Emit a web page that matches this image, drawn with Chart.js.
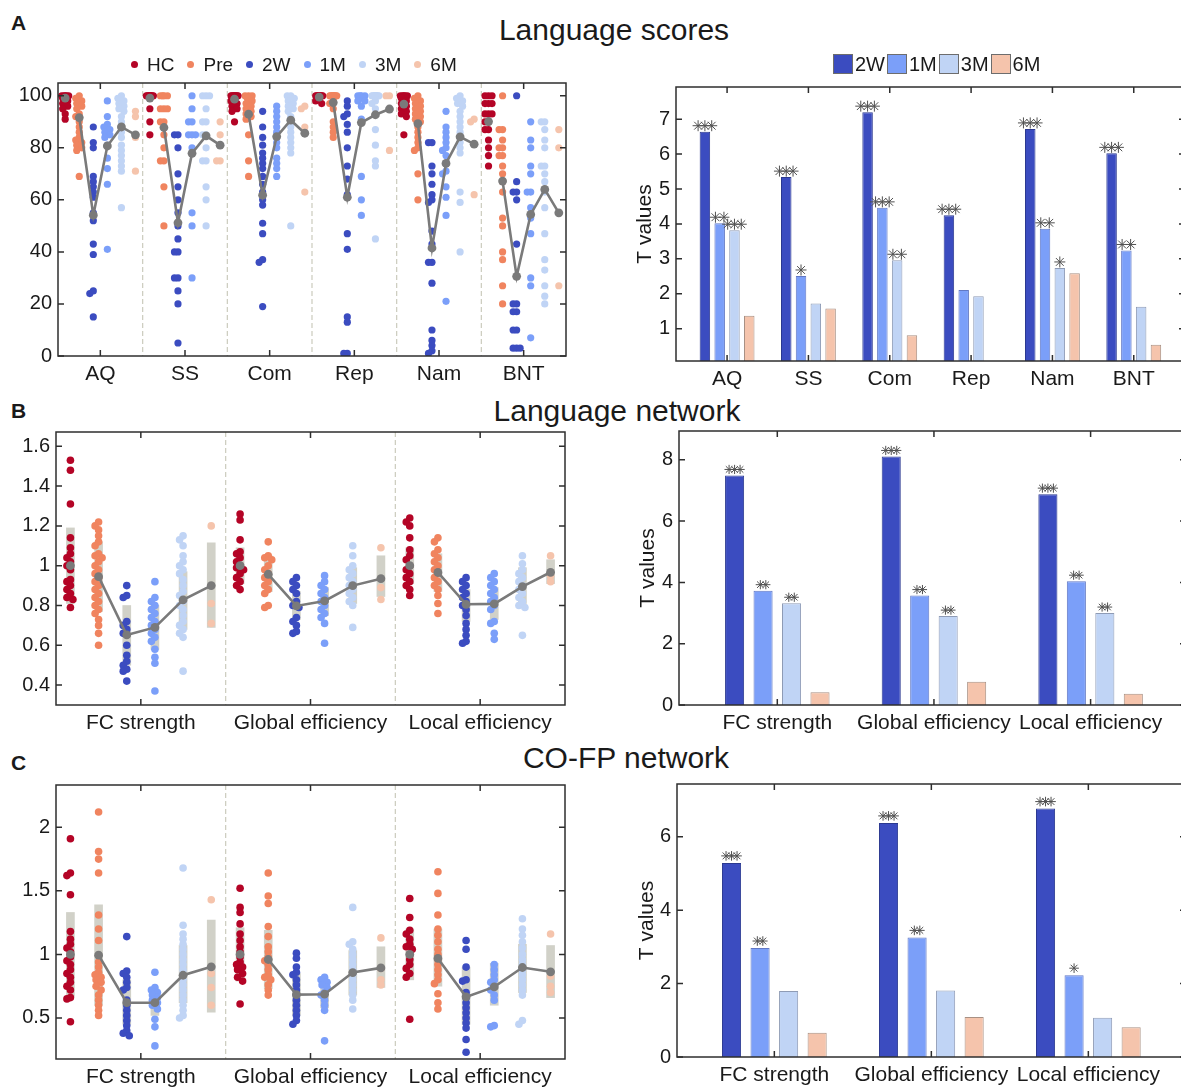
<!DOCTYPE html>
<html lang="en">
<head>
<meta charset="utf-8">
<script src="https://cdn.jsdelivr.net/npm/chart.js@4.4.1/dist/chart.umd.min.js"></script>
<style>
  html, body { margin: 0; padding: 0; background: #fff; width: 1181px; height: 1089px; overflow: hidden; position: relative;
    font-family: 'Liberation Sans', Arial, sans-serif; color: #1a1a1a; }
  canvas { position: absolute; }
  .letra { position: absolute; font-weight: bold; font-size: 21px; line-height: 1; }
  .titulo { position: absolute; font-size: 30px; line-height: 1; transform: translateX(-50%); white-space: nowrap; }
  .legenda { position: absolute; display: flex; align-items: center; font-size: 19px; line-height: 1; white-space: nowrap; z-index: 2; }
  .ponto { width: 7px; height: 7px; border-radius: 50%; display: inline-block; margin-right: 9px; }
  .item { display: flex; align-items: center; margin-right: 13px; }
  .caixa { width: 18px; height: 18px; border: 1px solid #6d6d6d; display: inline-block; margin-right: 2px; }
  .itemBarra { display: flex; align-items: center; margin-right: 2px; font-size: 20px; }
</style>
</head>
<body>
<div class="letra" style="left:11px;top:12px">A</div>
<div class="titulo" style="left:614px;top:15px">Language scores</div>
<div class="letra" style="left:11px;top:400px">B</div>
<div class="titulo" style="left:617px;top:396px">Language network</div>
<div class="letra" style="left:11px;top:752px">C</div>
<div class="titulo" style="left:626px;top:743px">CO-FP network</div>
<div class="legenda" id="legPontos" style="left:131px;top:55px"></div>
<div class="legenda" id="legBarras" style="left:833px;top:54px"></div>

<script>
/* =========================
   DADOS
========================= */
const grupos = ['HC', 'Pre', '2W', '1M', '3M', '6M'];

// A - Language scores (pontos por categoria)
const catA = ['AQ', 'SS', 'Com', 'Rep', 'Nam', 'BNT'];
const ticksA = [0, 20, 40, 60, 80, 100];
const A_HC = [
  [100, 100, 100, 100, 100, 99, 98, 97, 96, 95, 93, 91],
  [100, 100, 100, 100, 100, 100, 100, 100, 100, 100, 95, 90, 85],
  [100, 100, 100, 100, 100, 100, 100, 100, 99, 98, 97, 96, 95, 94, 90],
  [100, 100, 100, 100, 100, 100, 100, 100, 99, 98, 97],
  [100, 100, 100, 100, 100, 99, 98, 97, 96, 95, 94, 93, 92, 85],
  [100, 100, 100, 97, 97, 97, 93, 93, 93, 90, 90, 87, 87, 83, 80, 77, 73]
];
const A_Pre = [
  [100, 99, 98, 97, 96, 95, 93, 92, 90, 88, 86, 84, 83, 82, 81, 80, 79, 69],
  [100, 100, 100, 100, 95, 95, 95, 90, 90, 85, 80, 75, 75, 65, 50],
  [100, 100, 100, 99, 98, 97, 96, 95, 94, 93, 92, 91, 85, 75, 69],
  [100, 100, 100, 100, 100, 100, 100, 100, 100, 100, 98, 97, 95, 90, 88, 86, 84],
  [100, 99, 98, 97, 96, 95, 94, 93, 92, 91, 90, 88, 86, 84, 82, 80, 79, 70, 60],
  [100, 87, 87, 83, 80, 80, 77, 77, 73, 70, 67, 63, 53, 50, 40, 37, 27, 20]
];
const A_2W = [
  [88, 82, 80, 69, 67, 65, 63, 61, 55, 52, 43, 39, 25, 24, 15],
  [85, 85, 80, 70, 65, 60, 55, 50, 45, 40, 40, 30, 30, 25, 20, 5],
  [94, 88, 84, 81, 78, 76, 74, 72, 69, 66, 63, 60, 58, 51, 47, 37, 36, 19],
  [98, 96, 93, 92, 89, 86, 80, 73, 68, 62, 47, 41, 15, 13, 1, 1],
  [82, 82, 73, 70, 66, 62, 60, 59, 48, 43, 36, 36, 28, 10, 6, 4, 2, 1],
  [100, 67, 63, 63, 60, 43, 20, 20, 17, 17, 10, 10, 3, 3, 3]
];
const A_1M = [
  [98, 92, 89, 88, 87, 86, 85, 84, 81, 76, 72, 66, 41],
  [100, 95, 90, 90, 85, 85, 85, 80, 55, 50, 30],
  [96, 94, 92, 90, 88, 86, 84, 82, 80, 76, 74, 72, 69],
  [100, 100, 100, 100, 99, 98, 98, 96, 91, 69, 60, 54],
  [94, 88, 86, 84, 82, 80, 79, 77, 74, 71, 70, 65, 61, 54, 21],
  [90, 83, 80, 73, 70, 63, 63, 57, 53, 47, 30, 27, 7]
];
const A_3M = [
  [100, 99, 98, 97, 96, 95, 94, 92, 90, 88, 86, 84, 81, 79, 77, 75, 73, 71, 57],
  [100, 100, 100, 95, 90, 90, 85, 85, 80, 75, 75, 65, 60, 50],
  [100, 100, 99, 98, 97, 96, 95, 94, 92, 90, 88, 86, 84, 82, 80, 78, 50],
  [100, 100, 100, 100, 100, 100, 100, 100, 100, 100, 98, 97, 95, 87, 81, 75, 73, 45],
  [100, 99, 98, 97, 96, 94, 92, 90, 88, 86, 84, 82, 80, 78, 63, 59, 40],
  [90, 90, 87, 83, 80, 73, 73, 70, 67, 63, 57, 47, 37, 33, 27, 23, 20]
];
const A_6M = [
  [94, 92, 84, 71],
  [90, 85, 75, 75],
  [96, 95, 88, 63],
  [100, 100, 79],
  [91, 90, 62],
  [87, 80, 27]
];
// medias [categoria][HC, Pre, 2W, 1M, 3M, 6M]
const mediaA = [
  [99.1, 91.6, 54.1, 80.7, 88, 85],
  [99.1, 87.8, 51.2, 77.9, 84.6, 81],
  [98.7, 92.9, 61.8, 84.3, 90.6, 85.6],
  [99.5, 97.4, 61, 89.7, 92.7, 94.9],
  [96.8, 89.3, 41.5, 74, 84.2, 81.4],
  [90.1, 67.2, 30.6, 54.4, 64, 55]
];

// A - T values
const ticksTA = [1, 2, 3, 4, 5, 6, 7];
const tA_2W = [6.64, 5.34, 7.2, 4.25, 6.72, 6.02];
const tA_1M = [4.02, 2.51, 4.46, 2.11, 3.86, 3.24];
const tA_3M = [3.82, 1.72, 2.96, 1.93, 2.74, 1.63];
const tA_6M = [1.37, 1.58, 0.81, null, 2.59, 0.54];
const sigA_2W = [3, 3, 3, 3, 3, 3];
const sigA_1M = [2, 1, 3, 0, 2, 2];
const sigA_3M = [3, 0, 2, 0, 1, 0];
const sigA_6M = [0, 0, 0, 0, 0, 0];

// B - Language network
const catRede = ['FC strength', 'Global efficiency', 'Local efficiency'];
const ticksB = [0.4, 0.6, 0.8, 1, 1.2, 1.4, 1.6];
const B_HC = [
  [1.53, 1.48, 1.31, 1.14, 1.09, 1.06, 1.04, 1.02, 1.0, 0.98, 0.93, 0.92, 0.90, 0.88, 0.86, 0.84, 0.83, 0.79],
  [1.26, 1.23, 1.13, 1.07, 1.06, 1.04, 1.02, 1.0, 0.99, 0.98, 0.96, 0.94, 0.92, 0.90, 0.88],
  [1.24, 1.22, 1.20, 1.14, 1.08, 1.05, 1.03, 1.0, 0.98, 0.96, 0.94, 0.92, 0.90, 0.88, 0.85]
];
const B_Pre = [
  [1.22, 1.20, 1.18, 1.15, 1.12, 1.10, 1.06, 1.05, 1.04, 1.02, 1.0, 0.98, 0.96, 0.94, 0.92, 0.90, 0.88, 0.86, 0.84, 0.82, 0.80, 0.78, 0.76, 0.73, 0.70, 0.66, 0.60],
  [1.12, 1.05, 1.04, 1.03, 1.0, 0.98, 0.96, 0.94, 0.92, 0.90, 0.88, 0.86, 0.80, 0.79],
  [1.14, 1.12, 1.08, 1.06, 1.04, 1.02, 1.0, 0.98, 0.96, 0.94, 0.92, 0.90, 0.88, 0.85, 0.81, 0.76]
];
const B_2W = [
  [0.90, 0.85, 0.84, 0.72, 0.70, 0.68, 0.66, 0.60, 0.55, 0.52, 0.50, 0.48, 0.47, 0.42],
  [0.94, 0.92, 0.90, 0.88, 0.86, 0.82, 0.80, 0.79, 0.74, 0.72, 0.70, 0.67, 0.66],
  [0.94, 0.92, 0.90, 0.88, 0.86, 0.84, 0.82, 0.80, 0.78, 0.75, 0.71, 0.68, 0.65, 0.62, 0.61]
];
const B_1M = [
  [0.92, 0.84, 0.82, 0.80, 0.78, 0.76, 0.74, 0.72, 0.70, 0.68, 0.66, 0.64, 0.62, 0.58, 0.54, 0.51, 0.37],
  [0.95, 0.92, 0.90, 0.88, 0.86, 0.84, 0.82, 0.80, 0.78, 0.76, 0.74, 0.71, 0.61],
  [0.96, 0.94, 0.92, 0.90, 0.88, 0.86, 0.84, 0.82, 0.80, 0.78, 0.72, 0.71, 0.66, 0.63]
];
const B_3M = [
  [1.15, 1.13, 1.10, 1.05, 1.02, 1.0, 0.98, 0.96, 0.93, 0.90, 0.87, 0.85, 0.82, 0.80, 0.78, 0.75, 0.72, 0.70, 0.68, 0.66, 0.64, 0.47],
  [1.10, 1.05, 1.0, 0.98, 0.96, 0.94, 0.92, 0.90, 0.88, 0.86, 0.84, 0.82, 0.80, 0.69],
  [1.05, 1.01, 0.98, 0.96, 0.94, 0.92, 0.90, 0.88, 0.86, 0.84, 0.82, 0.80, 0.79, 0.65]
];
const B_6M = [
  [1.20, 0.81, 0.71],
  [1.09, 0.89, 0.83],
  [1.05, 0.95, 0.92]
];
const mediaB = [
  [1.0, 0.945, 0.652, 0.69, 0.828, 0.9],
  [1.0, 0.957, 0.798, 0.823, 0.9, 0.935],
  [1.0, 0.966, 0.806, 0.808, 0.895, 0.967]
];
const faixaB_min = [
  [0.81, 0.77, 0.50, 0.58, 0.68, 0.69],
  [0.91, 0.87, 0.73, 0.75, 0.81, 0.845],
  [0.91, 0.87, 0.72, 0.73, 0.81, 0.91]
];
const faixaB_max = [
  [1.19, 1.12, 0.80, 0.80, 0.97, 1.115],
  [1.09, 1.05, 0.87, 0.89, 0.99, 1.05],
  [1.09, 1.06, 0.88, 0.89, 0.99, 1.03]
];
const ticksTB = [0, 2, 4, 6, 8];
const tB_2W = [7.49, 8.11, 6.88];
const tB_1M = [3.73, 3.57, 4.04];
const tB_3M = [3.32, 2.9, 3.0];
const tB_6M = [0.42, 0.76, 0.37];
const sigB_2W = [3, 3, 3];
const sigB_1M = [2, 2, 2];
const sigB_3M = [2, 2, 2];
const sigB_6M = [0, 0, 0];

// C - CO-FP network
const ticksC = [0.5, 1, 1.5, 2];
const C_HC = [
  [1.91, 1.64, 1.62, 1.47, 1.18, 1.12, 1.08, 1.05, 1.02, 0.98, 0.95, 0.92, 0.88, 0.85, 0.82, 0.78, 0.75, 0.72, 0.66, 0.65, 0.47],
  [1.52, 1.37, 1.33, 1.24, 1.16, 1.11, 1.06, 1.02, 0.98, 0.94, 0.92, 0.90, 0.88, 0.85, 0.82, 0.79, 0.61],
  [1.44, 1.29, 1.19, 1.16, 1.12, 1.08, 1.06, 1.04, 1.0, 0.96, 0.92, 0.89, 0.85, 0.82, 0.49]
];
const C_Pre = [
  [2.12, 1.81, 1.75, 1.64, 1.31, 1.20, 1.11, 0.94, 0.90, 0.86, 0.84, 0.82, 0.80, 0.78, 0.75, 0.72, 0.68, 0.64, 0.60, 0.56, 0.52],
  [1.64, 1.46, 1.40, 1.22, 1.14, 1.06, 1.02, 0.98, 0.95, 0.92, 0.88, 0.84, 0.82, 0.80, 0.76, 0.72, 0.68],
  [1.65, 1.48, 1.31, 1.20, 1.15, 1.10, 1.04, 1.0, 0.96, 0.92, 0.88, 0.84, 0.80, 0.77, 0.69, 0.62, 0.57]
];
const C_2W = [
  [1.14, 0.87, 0.85, 0.82, 0.78, 0.74, 0.72, 0.64, 0.60, 0.56, 0.52, 0.48, 0.44, 0.40, 0.38, 0.36],
  [1.01, 0.97, 0.90, 0.86, 0.84, 0.80, 0.76, 0.72, 0.68, 0.64, 0.60, 0.56, 0.52, 0.48, 0.45],
  [1.11, 1.04, 0.90, 0.80, 0.79, 0.70, 0.66, 0.62, 0.58, 0.54, 0.50, 0.46, 0.42, 0.33, 0.23]
];
const C_1M = [
  [0.86, 0.74, 0.72, 0.70, 0.68, 0.66, 0.64, 0.62, 0.60, 0.57, 0.49, 0.43, 0.28],
  [0.82, 0.80, 0.78, 0.76, 0.74, 0.70, 0.68, 0.64, 0.60, 0.56, 0.32],
  [0.92, 0.88, 0.84, 0.80, 0.78, 0.75, 0.72, 0.68, 0.64, 0.44, 0.43]
];
const C_3M = [
  [1.68, 1.23, 1.16, 1.12, 1.08, 1.04, 1.0, 0.96, 0.92, 0.88, 0.84, 0.80, 0.76, 0.72, 0.68, 0.64, 0.60, 0.56, 0.52, 0.50],
  [1.37, 1.10, 1.08, 1.04, 1.0, 0.96, 0.92, 0.88, 0.84, 0.80, 0.76, 0.72, 0.68, 0.64, 0.57],
  [1.28, 1.20, 1.15, 1.10, 1.05, 1.0, 0.96, 0.92, 0.88, 0.84, 0.80, 0.76, 0.72, 0.68, 0.48, 0.45]
];
const C_6M = [
  [1.43, 0.85, 0.74, 0.60],
  [1.13, 0.89, 0.80, 0.76],
  [1.16, 0.83, 0.75, 0.70]
];
const mediaC = [
  [1.0, 0.994, 0.62, 0.62, 0.836, 0.902],
  [1.0, 0.96, 0.684, 0.687, 0.857, 0.894],
  [1.0, 0.968, 0.666, 0.744, 0.897, 0.863]
];
const faixaC_min = [
  [0.67, 0.60, 0.45, 0.52, 0.62, 0.545],
  [0.79, 0.73, 0.52, 0.58, 0.68, 0.74],
  [0.80, 0.75, 0.45, 0.60, 0.70, 0.66]
];
const faixaC_max = [
  [1.33, 1.39, 0.80, 0.73, 1.07, 1.27],
  [1.21, 1.19, 0.85, 0.80, 1.03, 1.06],
  [1.20, 1.20, 0.90, 0.93, 1.08, 1.07]
];
const ticksTC = [0, 2, 4, 6];
const tC_2W = [5.29, 6.38, 6.77];
const tC_1M = [2.97, 3.26, 2.23];
const tC_3M = [1.80, 1.81, 1.07];
const tC_6M = [0.66, 1.09, 0.81];
const sigC_2W = [3, 3, 3];
const sigC_1M = [2, 2, 1];
const sigC_3M = [0, 0, 0];
const sigC_6M = [0, 0, 0];

/* =========================
   ESTILO
========================= */
const cores = ['#b40426', '#f0845f', '#3b4cc0', '#7b9ff9', '#c0d4f5', '#f5c4ac'];
const bordasBarra = ['#2b3990', '#6178c4', '#8e9bb5', '#a89083'];
const desloc = [-0.415, -0.249, -0.083, 0.083, 0.249, 0.415];
const corTexto = '#1a1a1a';

Chart.defaults.font.family = "'Liberation Sans', Arial, sans-serif";
Chart.defaults.color = corTexto;
Chart.defaults.animation = false;
Chart.defaults.events = [];
Chart.defaults.plugins.legend.display = false;
Chart.defaults.plugins.tooltip.enabled = false;

/* =========================
   PLUGINS
========================= */
const moldura = {
  id: 'moldura',
  beforeDatasetsDraw(chart, args, opts) {
    if (!opts.divisores) return;
    const { ctx, chartArea: a, scales: { x } } = chart;
    ctx.save();
    ctx.strokeStyle = '#cbcbbd';
    ctx.lineWidth = 1.2;
    ctx.setLineDash([5, 3]);
    for (let i = 1; i < opts.divisores; i++) {
      const px = x.getPixelForValue(i + 0.5);
      ctx.beginPath();
      ctx.moveTo(px, a.top);
      ctx.lineTo(px, a.bottom);
      ctx.stroke();
    }
    ctx.restore();
  },
  afterDraw(chart) {
    const { ctx, chartArea: a, scales: { x, y } } = chart;
    ctx.save();
    ctx.strokeStyle = '#2e2e2e';
    ctx.lineWidth = 1.5;
    ctx.strokeRect(a.left, a.top, a.right - a.left, a.bottom - a.top);
    ctx.beginPath();
    y.ticks.forEach(t => {
      const py = y.getPixelForValue(t.value);
      ctx.moveTo(a.left, py); ctx.lineTo(a.left + 6, py);
      ctx.moveTo(a.right, py); ctx.lineTo(a.right - 6, py);
    });
    x.ticks.forEach(t => {
      const px = x.getPixelForValue(t.value);
      ctx.moveTo(px, a.top); ctx.lineTo(px, a.top + 6);
      ctx.moveTo(px, a.bottom); ctx.lineTo(px, a.bottom - 6);
    });
    ctx.stroke();
    ctx.restore();
  }
};

const asteriscos = {
  id: 'asteriscos',
  afterDatasetsDraw(chart, args, opts) {
    if (!opts.niveis) return;
    const ctx = chart.ctx;
    ctx.save();
    ctx.strokeStyle = '#505050';
    ctx.fillStyle = '#505050';
    opts.niveis.forEach((niveis, i) => {
      chart.getDatasetMeta(i).data.forEach((barra, j) => {
        const n = niveis[j];
        if (!n || isNaN(barra.y)) return;
        const passo = n === 2 ? opts.passo2 : opts.passo3;
        for (let k = 0; k < n; k++) {
          Chart.helpers.drawPoint(ctx, { pointStyle: 'star', radius: opts.raio, rotation: 0, borderWidth: 1.1 },
            barra.x + (k - (n - 1) / 2) * passo, barra.y - opts.folga);
        }
      });
    });
    ctx.restore();
  }
};

/* =========================
   UTILIDADES
========================= */
function criarCanvas(area, yw, xh) {
  const pad = { left: 4, top: 22, right: 10, bottom: 4 };
  const c = document.createElement('canvas');
  const left = area.l - yw - pad.left;
  const top = area.t - pad.top;
  c.width = area.r + pad.right - left;
  c.height = area.b + xh + pad.bottom - top;
  c.style.left = left + 'px';
  c.style.top = top + 'px';
  document.body.appendChild(c);
  return { c, pad };
}

// afasta horizontalmente pontos que se sobrepoem (em px)
function espalhar(vals, pxY) {
  const feitos = [];
  return vals.map(v => {
    const py = v * pxY;
    let melhor = 0, melhorDist = -1;
    for (const dx of [0, -2.5, 2.5, -1.2, 1.2, -3.5, 3.5]) {
      let d = Infinity;
      feitos.forEach(p => { d = Math.min(d, Math.hypot(p.dx - dx, p.py - py)); });
      if (d >= 5) { melhor = dx; break; }
      if (d > melhorDist) { melhor = dx; melhorDist = d; }
    }
    feitos.push({ dx: melhor, py });
    return melhor;
  });
}

function eixoX(cats, xr, xh, fonte) {
  return {
    type: 'linear', min: xr[0], max: xr[1], offset: false,
    afterBuildTicks: s => { s.ticks = cats.map((_, i) => ({ value: i + 1 })); },
    afterFit: s => { s.height = xh; },
    grid: { display: false, drawTicks: false },
    border: { display: false },
    ticks: { autoSkip: false, maxRotation: 0, minRotation: 0, padding: 6, font: { size: fonte }, color: corTexto,
      callback: v => cats[v - 1] ?? '' }
  };
}

function eixoY(ticks, yr, yw, titulo) {
  return {
    min: yr[0], max: yr[1],
    afterBuildTicks: s => { s.ticks = ticks.map(v => ({ value: v })); },
    afterFit: s => { s.width = yw; },
    grid: { display: false, drawTicks: false },
    border: { display: false },
    ticks: { padding: 6, font: { size: 20 }, color: corTexto, callback: v => String(v) },
    title: { display: !!titulo, text: titulo || '', font: { size: 21 }, color: corTexto, padding: { top: 4, bottom: 4 } }
  };
}

/* =========================
   GRAFICO DISPERSAO
========================= */
function montarDispersao(area, xr, yr, cats, ticks, pontos, medias, faixaMin, faixaMax, raio) {
  const yw = 46, xh = 35;
  const { c, pad } = criarCanvas(area, yw, xh);
  const pxX = (area.r - area.l) / (xr[1] - xr[0]);
  const pxY = (area.b - area.t) / (yr[1] - yr[0]);
  const datasets = [];

  if (faixaMin) {
    const faixas = [];
    cats.forEach((_, ci) => grupos.forEach((_, g) => {
      faixas.push({ x: ci + 1 + desloc[g], y: [faixaMin[ci][g], faixaMax[ci][g]] });
    }));
    datasets.push({ type: 'bar', data: faixas, backgroundColor: 'rgba(196,196,184,0.78)', borderWidth: 0,
      barThickness: 8, grouped: false, order: 3 });
  }

  pontos.forEach((porCat, g) => {
    const dados = [];
    porCat.forEach((vals, ci) => {
      const dx = espalhar(vals, pxY);
      vals.forEach((v, i) => dados.push({ x: ci + 1 + desloc[g] + dx[i] / pxX, y: v }));
    });
    datasets.push({ type: 'scatter', label: grupos[g], data: dados, backgroundColor: cores[g], borderWidth: 0,
      pointRadius: raio, order: 2 });
  });

  const linha = [];
  medias.forEach((m, ci) => {
    linha.push({ x: ci + 1 + desloc[0], y: m[0] }, { x: ci + 1 + desloc[0], y: null });
    for (let g = 1; g < 6; g++) linha.push({ x: ci + 1 + desloc[g], y: m[g] });
    linha.push({ x: ci + 1 + desloc[5], y: null });
  });
  datasets.push({ type: 'line', data: linha, borderColor: '#7a7a7a', backgroundColor: '#7a7a7a', borderWidth: 2.6,
    pointRadius: 4.4, pointBorderWidth: 0, spanGaps: false, order: 1 });

  new Chart(c, {
    type: 'scatter',
    data: { datasets },
    options: {
      responsive: false,
      layout: { padding: pad },
      scales: { x: eixoX(cats, xr, xh, 21), y: eixoY(ticks, yr, yw) },
      plugins: { moldura: { divisores: cats.length } }
    },
    plugins: [moldura]
  });
}

/* =========================
   GRAFICO BARRAS (T values)
========================= */
function montarBarras(area, xr, yr, cats, ticks, series, sigs, yw, cfg) {
  const xh = 35;
  const { c, pad } = criarCanvas(area, yw, xh);
  new Chart(c, {
    type: 'bar',
    data: {
      datasets: series.map((s, k) => ({
        label: grupos[k + 2],
        data: s.map((v, i) => ({ x: i + 1, y: v })),
        backgroundColor: cores[k + 2],
        borderColor: bordasBarra[k],
        borderWidth: 1,
        borderSkipped: 'bottom',
        categoryPercentage: 0.727,
        barPercentage: cfg.barPct
      }))
    },
    options: {
      responsive: false,
      layout: { padding: pad },
      scales: { x: eixoX(cats, xr, xh, 21), y: eixoY(ticks, yr, yw, 'T values') },
      plugins: { asteriscos: { niveis: sigs, raio: cfg.raio, passo2: cfg.passo2, passo3: cfg.passo3, folga: cfg.folga } }
    },
    plugins: [moldura, asteriscos]
  });
}

/* =========================
   LEGENDAS
========================= */
const legPontos = document.getElementById('legPontos');
grupos.forEach((g, i) => {
  const it = document.createElement('span');
  it.className = 'item';
  it.innerHTML = `<span class="ponto" style="background:${cores[i]}"></span>${g}`;
  legPontos.appendChild(it);
});
const legBarras = document.getElementById('legBarras');
grupos.slice(2).forEach((g, i) => {
  const it = document.createElement('span');
  it.className = 'itemBarra';
  it.innerHTML = `<span class="caixa" style="background:${cores[i + 2]}"></span>${g}`;
  legBarras.appendChild(it);
});

/* =========================
   MONTAGEM
========================= */
montarDispersao({ l: 58, t: 83, r: 566, b: 356 }, [0.5, 6.5], [0, 104.9], catA, ticksA,
  [A_HC, A_Pre, A_2W, A_1M, A_3M, A_6M], mediaA, null, null, 3.6);
montarBarras({ l: 676, t: 87, r: 1185, b: 361 }, [0.372, 6.63], [0.076, 7.92], catA, ticksTA,
  [tA_2W, tA_1M, tA_3M, tA_6M], [sigA_2W, sigA_1M, sigA_3M, sigA_6M], 47,
  { barPct: 0.71, raio: 5.5, passo2: 8.5, passo3: 6.8, folga: 6 });

montarDispersao({ l: 56, t: 432, r: 565, b: 705 }, [0.5, 3.5], [0.3, 1.672], catRede, ticksB,
  [B_HC, B_Pre, B_2W, B_1M, B_3M, B_6M], mediaB, faixaB_min, faixaB_max, 3.8);
montarBarras({ l: 679, t: 431, r: 1186, b: 705 }, [0.3725, 3.609], [0, 8.94], catRede, ticksTB,
  [tB_2W, tB_1M, tB_3M, tB_6M], [sigB_2W, sigB_1M, sigB_3M, sigB_6M], 47,
  { barPct: 0.67, raio: 4.6, passo2: 5.5, passo3: 5.5, folga: 6 });

montarDispersao({ l: 56, t: 785, r: 565, b: 1059 }, [0.5, 3.5], [0.177, 2.333], catRede, ticksC,
  [C_HC, C_Pre, C_2W, C_1M, C_3M, C_6M], mediaC, faixaC_min, faixaC_max, 3.8);
montarBarras({ l: 677, t: 784, r: 1186, b: 1057 }, [0.38, 3.622], [0, 7.44], catRede, ticksTC,
  [tC_2W, tC_1M, tC_3M, tC_6M], [sigC_2W, sigC_1M, sigC_3M, sigC_6M], 46,
  { barPct: 0.67, raio: 4.8, passo2: 5.5, passo3: 5.5, folga: 7 });
</script>
</body>
</html>
